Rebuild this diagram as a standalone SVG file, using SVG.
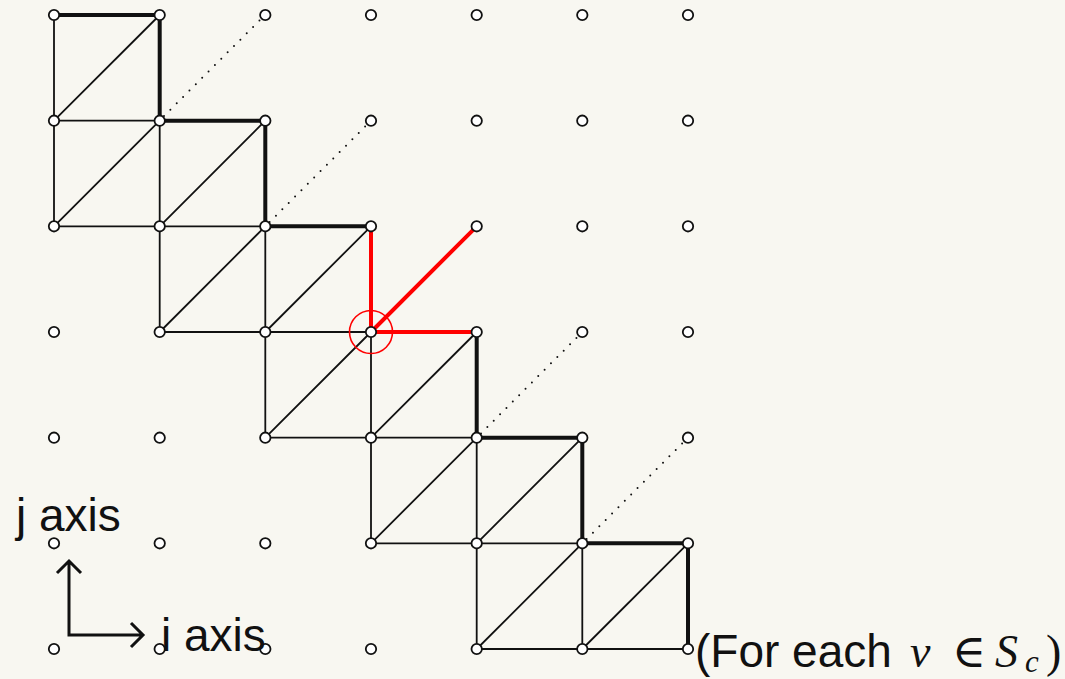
<svg xmlns="http://www.w3.org/2000/svg" width="1065" height="679" viewBox="0 0 1065 679">
<defs>
<style>
.thin{stroke:#111;stroke-width:1.8;fill:none}
.thick{stroke:#111;stroke-width:4;fill:none;stroke-linejoin:miter}
.red{stroke:#ff0000;stroke-width:4;fill:none}
.dot{stroke:#111;stroke-width:2;stroke-dasharray:0 9;stroke-linecap:round;fill:none}
.nd{fill:#fff;stroke:#111;stroke-width:1.8}
.ax{stroke:#111;stroke-width:3;fill:none}
.lbl{font-family:"Liberation Sans",Arial,sans-serif;fill:#111}
.math{font-family:"Liberation Serif","DejaVu Serif",serif;fill:#111}
</style>
</defs>
<rect width="1065" height="679" fill="#f8f7f1"/>
<g id="connectors">
<path class="thin" d="M54,15V120.7H159.7M54,120.7L159.7,15
M54,120.7V226.3H159.7M159.7,120.7V226.3M54,226.3L159.7,120.7
M159.7,226.3H265.3M159.7,226.3L265.3,120.7
M159.7,226.3V332H265.3M265.3,226.3V332M159.7,332L265.3,226.3
M265.3,332H371M265.3,332L371,226.3
M265.3,332V437.7H371M371,332V437.7M265.3,437.7L371,332
M371,437.7H476.7M371,437.7L476.7,332
M371,437.7V543.3H476.7M476.7,437.7V543.3M371,543.3L476.7,437.7
M476.7,543.3H582.3M476.7,543.3L582.3,437.7
M476.7,543.3V649H582.3M582.3,543.3V649M476.7,649L582.3,543.3
M582.3,649H688M582.3,649L688,543.3"/>
<path class="thick" d="M54,15H159.7V120.7H265.3V226.3H371M476.7,332V437.7H582.3V543.3H688V649"/>
<path class="dot" d="M164,116L261,19M269.6,222L366.7,125M481,433.4L578,336.3M586.6,539L683.7,442"/>
<path class="red" d="M371,226.3V332H476.7M371,332L476.7,226.3"/>
<circle cx="371" cy="332" r="21.5" fill="none" stroke="#ff0000" stroke-width="1.6"/>
<path class="ax" d="M69,561V635H143M57,573L69,561L81,573M131,623L143,635L131,647"/>
</g>
<g id="nodes">
<g id="n-0-0"><circle class="nd" cx="54" cy="15" r="5.2"/></g>
<g id="n-1-0"><circle class="nd" cx="159.7" cy="15" r="5.2"/></g>
<g id="n-2-0"><circle class="nd" cx="265.3" cy="15" r="5.2"/></g>
<g id="n-3-0"><circle class="nd" cx="371" cy="15" r="5.2"/></g>
<g id="n-4-0"><circle class="nd" cx="476.7" cy="15" r="5.2"/></g>
<g id="n-5-0"><circle class="nd" cx="582.3" cy="15" r="5.2"/></g>
<g id="n-6-0"><circle class="nd" cx="688" cy="15" r="5.2"/></g>
<g id="n-0-1"><circle class="nd" cx="54" cy="120.7" r="5.2"/></g>
<g id="n-1-1"><circle class="nd" cx="159.7" cy="120.7" r="5.2"/></g>
<g id="n-2-1"><circle class="nd" cx="265.3" cy="120.7" r="5.2"/></g>
<g id="n-3-1"><circle class="nd" cx="371" cy="120.7" r="5.2"/></g>
<g id="n-4-1"><circle class="nd" cx="476.7" cy="120.7" r="5.2"/></g>
<g id="n-5-1"><circle class="nd" cx="582.3" cy="120.7" r="5.2"/></g>
<g id="n-6-1"><circle class="nd" cx="688" cy="120.7" r="5.2"/></g>
<g id="n-0-2"><circle class="nd" cx="54" cy="226.3" r="5.2"/></g>
<g id="n-1-2"><circle class="nd" cx="159.7" cy="226.3" r="5.2"/></g>
<g id="n-2-2"><circle class="nd" cx="265.3" cy="226.3" r="5.2"/></g>
<g id="n-3-2"><circle class="nd" cx="371" cy="226.3" r="5.2"/></g>
<g id="n-4-2"><circle class="nd" cx="476.7" cy="226.3" r="5.2"/></g>
<g id="n-5-2"><circle class="nd" cx="582.3" cy="226.3" r="5.2"/></g>
<g id="n-6-2"><circle class="nd" cx="688" cy="226.3" r="5.2"/></g>
<g id="n-0-3"><circle class="nd" cx="54" cy="332" r="5.2"/></g>
<g id="n-1-3"><circle class="nd" cx="159.7" cy="332" r="5.2"/></g>
<g id="n-2-3"><circle class="nd" cx="265.3" cy="332" r="5.2"/></g>
<g id="n-3-3"><circle class="nd" cx="371" cy="332" r="5.2"/></g>
<g id="n-4-3"><circle class="nd" cx="476.7" cy="332" r="5.2"/></g>
<g id="n-5-3"><circle class="nd" cx="582.3" cy="332" r="5.2"/></g>
<g id="n-6-3"><circle class="nd" cx="688" cy="332" r="5.2"/></g>
<g id="n-0-4"><circle class="nd" cx="54" cy="437.7" r="5.2"/></g>
<g id="n-1-4"><circle class="nd" cx="159.7" cy="437.7" r="5.2"/></g>
<g id="n-2-4"><circle class="nd" cx="265.3" cy="437.7" r="5.2"/></g>
<g id="n-3-4"><circle class="nd" cx="371" cy="437.7" r="5.2"/></g>
<g id="n-4-4"><circle class="nd" cx="476.7" cy="437.7" r="5.2"/></g>
<g id="n-5-4"><circle class="nd" cx="582.3" cy="437.7" r="5.2"/></g>
<g id="n-6-4"><circle class="nd" cx="688" cy="437.7" r="5.2"/></g>
<g id="n-0-5"><circle class="nd" cx="54" cy="543.3" r="5.2"/></g>
<g id="n-1-5"><circle class="nd" cx="159.7" cy="543.3" r="5.2"/></g>
<g id="n-2-5"><circle class="nd" cx="265.3" cy="543.3" r="5.2"/></g>
<g id="n-3-5"><circle class="nd" cx="371" cy="543.3" r="5.2"/></g>
<g id="n-4-5"><circle class="nd" cx="476.7" cy="543.3" r="5.2"/></g>
<g id="n-5-5"><circle class="nd" cx="582.3" cy="543.3" r="5.2"/></g>
<g id="n-6-5"><circle class="nd" cx="688" cy="543.3" r="5.2"/></g>
<g id="n-0-6"><circle class="nd" cx="54" cy="649" r="5.2"/></g>
<g id="n-1-6"><circle class="nd" cx="159.7" cy="649" r="5.2"/></g>
<g id="n-2-6"><circle class="nd" cx="265.3" cy="649" r="5.2"/></g>
<g id="n-3-6"><circle class="nd" cx="371" cy="649" r="5.2"/></g>
<g id="n-4-6"><circle class="nd" cx="476.7" cy="649" r="5.2"/></g>
<g id="n-5-6"><circle class="nd" cx="582.3" cy="649" r="5.2"/></g>
<g id="n-6-6"><circle class="nd" cx="688" cy="649" r="5.2"/></g>
</g>
<g id="labels">
<text class="lbl" x="16" y="531" font-size="46">j axis</text>
<text class="lbl" x="161" y="651" font-size="46">i axis</text>
<text x="695" y="667" font-size="46"><tspan class="lbl">(For each</tspan><tspan class="math" x="910" font-style="italic">v</tspan><tspan class="math" x="952">∈</tspan><tspan class="math" x="995" font-style="italic">S</tspan><tspan class="math" x="1025" dy="5" font-size="31" font-style="italic">c</tspan><tspan class="math" x="1046" dy="-5">)</tspan></text>
</g>
</svg>
